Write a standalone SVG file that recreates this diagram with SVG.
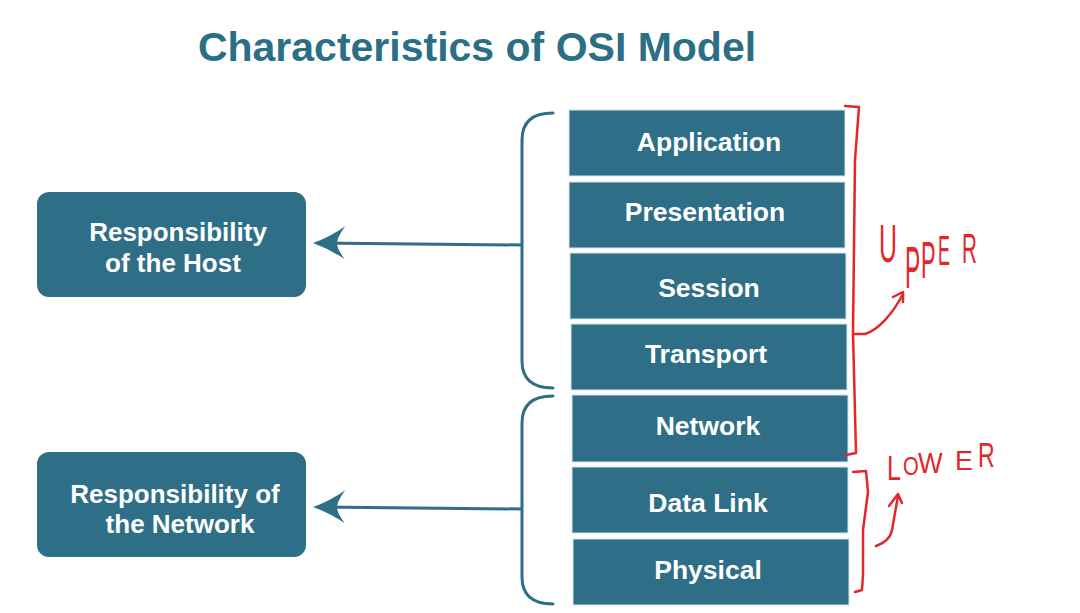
<svg xmlns="http://www.w3.org/2000/svg" width="1080" height="613" viewBox="0 0 1080 613">
<style>
.box{fill:#2e6e87;}
.layer{fill:#2e6e87;stroke:#d8e6ec;stroke-width:1;}
.lbl{font-family:"Liberation Sans",Arial,sans-serif;font-weight:bold;fill:#ffffff;text-anchor:middle;}
.ll{font-size:26.5px;}
.bl{font-size:26px;}
.title{font-family:"Liberation Sans",Arial,sans-serif;font-weight:bold;font-size:41px;fill:#2b6f87;text-anchor:middle;}
.brk{fill:none;stroke:#2e6e87;stroke-width:3;stroke-linecap:round;}
.conn{fill:none;stroke:#2e6e87;stroke-width:3;}
.red{fill:none;stroke:#e3262b;stroke-width:2.5;stroke-linecap:round;stroke-linejoin:round;}
.hw{font-family:"Liberation Sans",Arial,sans-serif;fill:#e3262b;}
</style>
<defs>
<marker id="barb" markerUnits="userSpaceOnUse" viewBox="-34 -20 40 40" refX="-5" refY="0" markerWidth="40" markerHeight="40" orient="auto">
<path d="M 0 0 Q -17 -6 -32 -16 Q -24 -6 -24 0 Q -24 6 -32 17 Q -17 6 0 0 Z" fill="#2e6e87"/>
</marker>
</defs>
<rect width="1080" height="613" fill="#ffffff"/>
<text class="title" x="477" y="61">Characteristics of OSI Model</text>

<g id="host">
<rect class="box" x="37" y="192" width="269" height="105" rx="12"/>
<text class="lbl bl" x="178" y="241">Responsibility</text>
<text class="lbl bl" x="173" y="272">of the Host</text>
</g>
<g id="network-resp">
<rect class="box" x="37" y="452" width="269" height="105" rx="12"/>
<text class="lbl bl" x="175" y="503">Responsibility of</text>
<text class="lbl bl" x="180" y="533">the Network</text>
</g>

<g id="application"><rect class="layer" x="569" y="110" width="276" height="66"/><text class="lbl ll" x="709" y="151">Application</text></g>
<g id="presentation"><rect class="layer" x="569" y="182" width="276" height="66"/><text class="lbl ll" x="705" y="221">Presentation</text></g>
<g id="session"><rect class="layer" x="570" y="253" width="276" height="66"/><text class="lbl ll" x="709" y="297">Session</text></g>
<g id="transport"><rect class="layer" x="571" y="324" width="276" height="66"/><text class="lbl ll" x="706" y="363">Transport</text></g>
<g id="network"><rect class="layer" x="572" y="395" width="276" height="67"/><text class="lbl ll" x="708" y="435">Network</text></g>
<g id="datalink"><rect class="layer" x="572" y="467" width="276" height="66"/><text class="lbl ll" x="708" y="512">Data Link</text></g>
<g id="physical"><rect class="layer" x="573" y="539" width="276" height="66"/><text class="lbl ll" x="708" y="579">Physical</text></g>

<g id="connectors">
<path class="brk" d="M 553 113 Q 522 113 522 140 L 522 361 Q 522 388 553 388"/>
<path class="brk" d="M 553 396 Q 522 396 522 423 L 522 577 Q 522 604 553 604"/>
<path class="conn" d="M 522 245 L 318 243" marker-end="url(#barb)"/>
<path class="conn" d="M 522 509 L 318 507" marker-end="url(#barb)"/>
</g>

<g id="annotations">
<path class="red" d="M 845 106 L 859 107 L 855 160 L 853 333 L 856 453 L 846 455"/>
<path class="red" d="M 853 334 L 865 334 C 878 330 892 315 903 294"/>
<path class="red" d="M 893 297 L 903 292 L 903 302"/>
<path class="red" d="M 853 472 L 866 471 L 868 492 L 863 530 L 863 575 L 862 590 L 855 592"/>
<path class="red" d="M 876 546 Q 890 541 892 530 L 898 496"/>
<path class="red" d="M 889 506 L 898 494 L 902 503"/>
<text class="hw" font-size="54" transform="translate(879 262) scale(0.46 1)">U</text>
<text class="hw" font-size="60" transform="translate(905 288) scale(0.38 1)">P</text>
<text class="hw" font-size="52" transform="translate(921 278) scale(0.42 1)">P</text>
<text class="hw" font-size="42" transform="translate(938 265) scale(0.43 1)">E</text>
<text class="hw" font-size="43" transform="translate(962 263) scale(0.48 1)">R</text>
<text class="hw" font-size="35" transform="translate(887 480) scale(0.72 1)">L</text>
<text class="hw" font-size="26" transform="translate(903 475) scale(0.78 1)">O</text>
<text class="hw" font-size="29" transform="translate(918 473) scale(0.9 1)">W</text>
<text class="hw" font-size="28" transform="translate(955 470) scale(0.96 1)">E</text>
<text class="hw" font-size="35" transform="translate(978 467) scale(0.66 1)">R</text>
</g>
</svg>
